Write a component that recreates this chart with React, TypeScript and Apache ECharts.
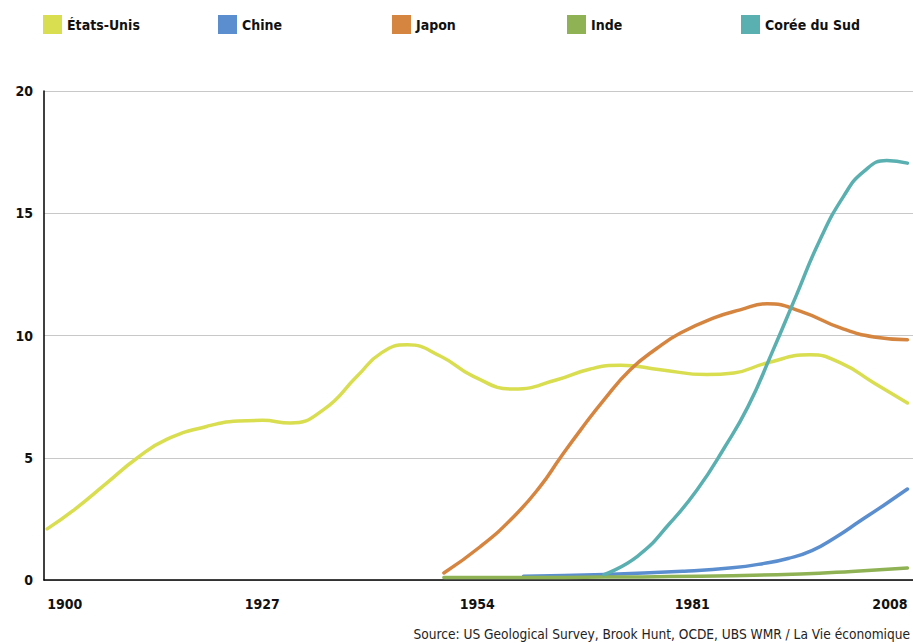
import React, { useEffect, useRef } from "react";
import * as echarts from "echarts";

const xTickLabels = [1900, 1927, 1954, 1981, 2008];

const usYears = [1900, 1903.5, 1907.5, 1911.3, 1915, 1920, 1924, 1927, 1930.5, 1934.7, 1938.9, 1942, 1945.2, 1949.4, 1953.5, 1958.6, 1964, 1968.2, 1972, 1977, 1982.8, 1986.2, 1990.4, 1995.8, 1999.6, 2003.8, 2008];
const usValues = [2.09, 2.9, 3.97, 4.99, 5.75, 6.28, 6.5, 6.53, 6.42, 6.97, 8.33, 9.3, 9.62, 9.15, 8.33, 7.81, 8.19, 8.63, 8.78, 8.6, 8.4, 8.47, 8.88, 9.21, 8.88, 8.06, 7.24];

const chinaYears = [1959.8, 1970, 1980, 1986, 1990, 1993, 1996, 1999, 2002, 2005, 2008];
const chinaValues = [0.15, 0.22, 0.36, 0.5, 0.68, 0.88, 1.2, 1.75, 2.4, 3.05, 3.72];

const japanYears = [1949.8, 1954.4, 1958.6, 1961.9, 1964.4, 1967, 1969.9, 1973.2, 1976.6, 1979.5, 1983.7, 1987, 1990.4, 1994.6, 1999.6, 2003.8, 2008];
const japanValues = [0.29, 1.37, 2.6, 3.83, 4.99, 6.15, 7.37, 8.6, 9.49, 10.1, 10.72, 11.05, 11.3, 10.99, 10.31, 9.94, 9.83];

const indiaYears = [1949.8, 1960, 1970, 1982, 1994.6, 2001, 2008];
const indiaValues = [0.1, 0.1, 0.12, 0.15, 0.25, 0.35, 0.49];

const koreaYears = [1969.9, 1974.1, 1978.2, 1981.6, 1985, 1988, 1991, 1994, 1997, 2000, 2002.5, 2005.4, 2008];
const koreaValues = [0.22, 0.97, 2.33, 3.69, 5.4, 7.1, 9.3, 11.6, 13.9, 15.7, 16.7, 17.16, 17.05];

const seriesNames = ["États-Unis", "Chine", "Japon", "Inde", "Corée du Sud"];
const seriesColors = ["#d9dd50", "#5b8ecf", "#d5853f", "#8fb254", "#5aafb0"];
const seriesYears = [usYears, chinaYears, japanYears, indiaYears, koreaYears];
const seriesValues = [usValues, chinaValues, japanValues, indiaValues, koreaValues];

const sourceText = "Source: US Geological Survey, Brook Hunt, OCDE, UBS WMR / La Vie économique";

const FONT = "'Liberation Sans Narrow', 'DejaVu Sans Condensed', 'Noto Sans', sans-serif";

export default function App() {
  const ref = useRef<HTMLDivElement>(null);

  useEffect(() => {
    if (!ref.current) return;
    const chart = echarts.init(ref.current, undefined, { renderer: "svg" });
    const legendLefts = [43, 218, 392, 567, 741];
    const option = {
      animation: false,
      backgroundColor: "#ffffff",
      textStyle: { fontFamily: FONT },
      legend: seriesNames.map((n, i) => ({
        data: [n],
        left: legendLefts[i],
        top: 15,
        padding: 0,
        icon: "rect",
        itemWidth: 19,
        itemHeight: 19,
        itemGap: 6,
        selectedMode: false,
        textStyle: { fontFamily: FONT, fontSize: 14, fontWeight: "bold", color: "#111" },
      })),
      grid: { left: 44, right: 0, top: 91, bottom: 63, containLabel: false },
      xAxis: {
        type: "value",
        min: 1899.6,
        max: 2008.7,
        splitLine: { show: false },
        axisTick: { show: false },
        axisLine: { show: true, onZero: false, lineStyle: { color: "#000", width: 1.5 } },
        axisLabel: {
          customValues: xTickLabels,
          alignMinLabel: "left",
          alignMaxLabel: "right",
          margin: 17,
          fontFamily: FONT,
          fontSize: 14,
          fontWeight: "bold",
          color: "#111",
          formatter: (v: number) => String(v),
        },
      },
      yAxis: {
        type: "value",
        min: 0,
        max: 20,
        interval: 5,
        axisLine: { show: true, lineStyle: { color: "#000", width: 1.5 } },
        axisTick: { show: false },
        splitLine: { show: true, lineStyle: { color: "#c8c8c8", width: 1 } },
        axisLabel: { margin: 11, fontFamily: FONT, fontSize: 14, fontWeight: "bold", color: "#111" },
      },
      series: seriesNames.map((n, i) => ({
        name: n,
        type: "line",
        smooth: 0.5,
        symbol: "none",
        color: seriesColors[i],
        lineStyle: { width: 3.5, color: seriesColors[i], cap: "round" },
        data: seriesYears[i].map((y, j) => [y, seriesValues[i][j]]),
      })),
      graphic: [
        {
          type: "text",
          right: 3,
          bottom: 2,
          style: { text: sourceText, fontFamily: FONT, fontSize: 13.6, fill: "#222" },
        },
      ],
    };
    chart.setOption(option as any);
    return () => chart.dispose();
  }, []);

  return <div ref={ref} style={{ position: "fixed", left: 0, top: 0, width: 913, height: 643 }} />;
}
